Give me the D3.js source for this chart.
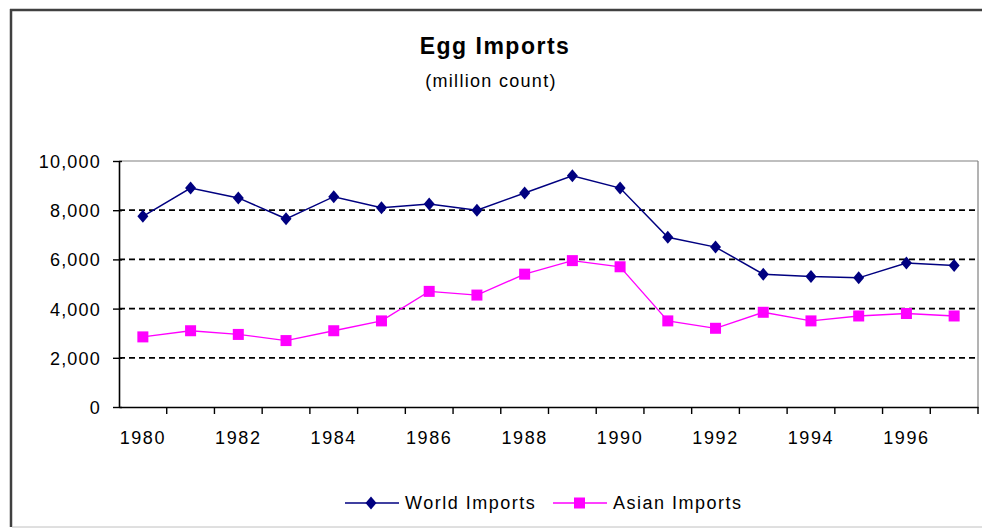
<!DOCTYPE html>
<html>
<head>
<meta charset="utf-8">
<script src="https://cdn.jsdelivr.net/npm/d3@7"></script>
<style>
  html, body { margin: 0; padding: 0; background: #fff; }
  svg { display: block; font-family: "Liberation Sans", Arial, sans-serif; }
</style>
</head>
<body>
<svg id="chart" width="982" height="528"></svg>
<script>
const years = [1980, 1981, 1982, 1983, 1984, 1985, 1986, 1987, 1988, 1989, 1990, 1991, 1992, 1993, 1994, 1995, 1996, 1997];
const worldImports = [7750, 8900, 8500, 7650, 8550, 8100, 8250, 8000, 8700, 9400, 8900, 6900, 6500, 5400, 5300, 5250, 5850, 5750];
const asianImports = [2850, 3100, 2950, 2700, 3100, 3500, 4700, 4550, 5400, 5950, 5700, 3500, 3200, 3850, 3500, 3700, 3800, 3700];
const yTickValues = [0, 2000, 4000, 6000, 8000, 10000];
const xTickLabels = [1980, 1982, 1984, 1986, 1988, 1990, 1992, 1994, 1996];
const seriesNames = ["World Imports", "Asian Imports"];
const titleText = "Egg Imports";
const subtitleText = "(million count)";

const svg = d3.select("#chart");
const W = 982, H = 528;
const plot = { left: 119, right: 978, top: 161, bottom: 407 };
const labelFont = "'Liberation Sans', Arial, sans-serif";

// Outer chart frame
svg.append("line").attr("x1", 11).attr("x2", 11).attr("y1", 9).attr("y2", 527)
  .attr("stroke", "#404040").attr("stroke-width", 2.5);
svg.append("line").attr("x1", 10).attr("x2", W).attr("y1", 10).attr("y2", 10)
  .attr("stroke", "#404040").attr("stroke-width", 2.5);
svg.append("line").attr("x1", 12).attr("x2", W).attr("y1", 527).attr("y2", 527)
  .attr("stroke", "#c0c0c0").attr("stroke-width", 1);

// Titles
svg.append("text").attr("x", 495).attr("y", 54).attr("text-anchor", "middle")
  .attr("font-size", 23).attr("font-weight", "bold").attr("letter-spacing", 1.5)
  .text(titleText);
svg.append("text").attr("x", 491).attr("y", 87).attr("text-anchor", "middle")
  .attr("font-size", 18).attr("letter-spacing", 1.3)
  .text(subtitleText);

const x = d3.scaleBand().domain(years).range([plot.left, plot.right]).padding(0);
const y = d3.scaleLinear().domain([0, 10000]).range([plot.bottom, plot.top]);
const cx = d => x(d) + x.bandwidth() / 2;

// Plot area borders (top & right grey)
svg.append("line").attr("x1", plot.left).attr("x2", plot.right).attr("y1", y(10000)).attr("y2", y(10000))
  .attr("stroke", "#808080").attr("stroke-width", 1.2);
svg.append("line").attr("x1", plot.right).attr("x2", plot.right).attr("y1", y(10000)).attr("y2", plot.bottom)
  .attr("stroke", "#808080").attr("stroke-width", 1.2);

// Gridlines
svg.append("g").selectAll("line")
  .data(yTickValues.filter(v => v > 0 && v < 10000))
  .join("line")
  .attr("x1", plot.left).attr("x2", plot.right)
  .attr("y1", d => y(d)).attr("y2", d => y(d))
  .attr("stroke", "#000").attr("stroke-width", 1.8).attr("stroke-dasharray", "6,4");

// Y axis
const yAxis = svg.append("g").attr("transform", `translate(${plot.left},0)`)
  .call(d3.axisLeft(y).tickValues(yTickValues).tickFormat(d3.format(","))
    .tickSizeInner(6).tickSizeOuter(0).tickPadding(12));
yAxis.select(".domain").attr("stroke", "#000").attr("stroke-width", 1.6);
yAxis.selectAll(".tick line").attr("stroke", "#000").attr("stroke-width", 1.4).attr("x2", -6).attr("x1", 3);
yAxis.selectAll(".tick text").attr("font-size", 18).attr("letter-spacing", 1.2)
  .attr("font-family", labelFont).attr("fill", "#000").attr("dy", "0.36em");

// X axis labels (category centers), ticks at category boundaries
const xAxis = svg.append("g").attr("transform", `translate(0,${plot.bottom})`)
  .call(d3.axisBottom(x).tickValues(xTickLabels).tickSize(0).tickPadding(24));
xAxis.select(".domain").attr("stroke", "#000").attr("stroke-width", 1.6);
xAxis.selectAll(".tick text").attr("font-size", 18).attr("letter-spacing", 1.6)
  .attr("font-family", labelFont).attr("fill", "#000");
svg.append("g").selectAll("line")
  .data(years.slice(1).concat(["end"]))
  .join("line")
  .attr("x1", d => d === "end" ? plot.right : x(d))
  .attr("x2", d => d === "end" ? plot.right : x(d))
  .attr("y1", plot.bottom).attr("y2", plot.bottom + 7)
  .attr("stroke", "#000").attr("stroke-width", 1.4);

// Series
const line = d3.line().x((d, i) => cx(years[i])).y(d => y(d));
svg.append("path").datum(asianImports).attr("d", line)
  .attr("fill", "none").attr("stroke", "#ff00ff").attr("stroke-width", 1.3);
svg.append("path").datum(worldImports).attr("d", line)
  .attr("fill", "none").attr("stroke", "#000080").attr("stroke-width", 1.5);

// Excel-style diamond: 11 wide, 13 tall
const excelDiamond = {
  draw(ctx, size) {
    const w = 5.5, h = 6.5;
    ctx.moveTo(0, -h); ctx.lineTo(w, 0); ctx.lineTo(0, h); ctx.lineTo(-w, 0); ctx.closePath();
  }
};
const diamond = d3.symbol().type(excelDiamond).size(1);
svg.append("g").selectAll("path")
  .data(worldImports).join("path")
  .attr("d", diamond)
  .attr("transform", (d, i) => `translate(${cx(years[i])},${y(d)})`)
  .attr("fill", "#000080");

svg.append("g").selectAll("rect")
  .data(asianImports).join("rect")
  .attr("x", (d, i) => cx(years[i]) - 5.5).attr("y", d => y(d) - 5.5)
  .attr("width", 11).attr("height", 11)
  .attr("fill", "#ff00ff");

// Legend
const legendY = 503;
const legendItems = [
  { name: seriesNames[0], color: "#000080", x0: 345, type: "diamond" },
  { name: seriesNames[1], color: "#ff00ff", x0: 553, type: "square" }
];
const lg = svg.append("g");
legendItems.forEach(it => {
  lg.append("line").attr("x1", it.x0).attr("x2", it.x0 + 54).attr("y1", legendY).attr("y2", legendY)
    .attr("stroke", it.color).attr("stroke-width", it.type === "diamond" ? 1.5 : 1.3);
  if (it.type === "diamond") {
    lg.append("path").attr("d", diamond).attr("transform", `translate(${it.x0 + 26},${legendY})`).attr("fill", it.color);
  } else {
    lg.append("rect").attr("x", it.x0 + 21).attr("y", legendY - 5.5).attr("width", 11).attr("height", 11).attr("fill", it.color);
  }
  lg.append("text").attr("x", it.x0 + 60).attr("y", legendY).attr("dy", "0.36em")
    .attr("font-size", 18).attr("letter-spacing", 1.5).text(it.name);
});
</script>
</body>
</html>
